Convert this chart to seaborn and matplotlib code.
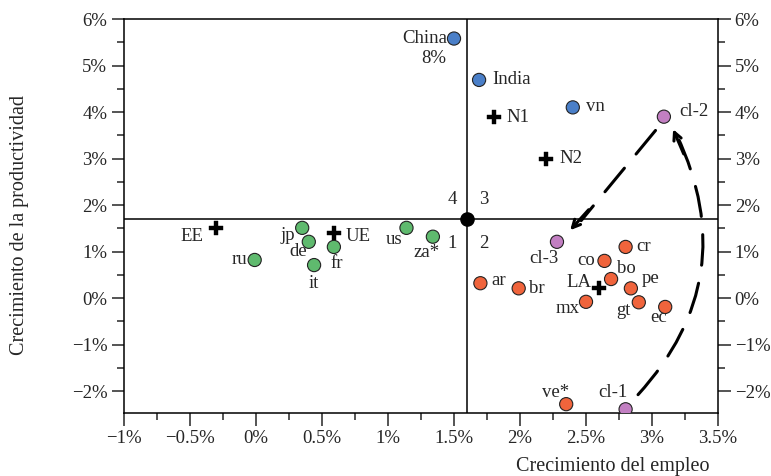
import matplotlib
matplotlib.use("Agg")
import matplotlib.pyplot as plt
from matplotlib.patches import FancyArrowPatch
from matplotlib.ticker import FuncFormatter, MultipleLocator
import pandas as pd
import seaborn as sns

# --- données (en %) ---
names = ["China", "India", "vn",
         "jp", "de", "fr", "it", "ru", "us", "za*",
         "ar", "br", "mx", "co", "cr", "bo", "pe", "gt", "ec", "ve*",
         "cl-1", "cl-2", "cl-3"]
empleo = [1.50, 1.69, 2.40,
          0.35, 0.40, 0.59, 0.44, -0.01, 1.14, 1.34,
          1.70, 1.99, 2.50, 2.64, 2.80, 2.69, 2.84, 2.90, 3.10, 2.35,
          2.80, 3.09, 2.28]
productividad = [5.58, 4.69, 4.10,
                 1.51, 1.21, 1.10, 0.71, 0.82, 1.51, 1.32,
                 0.32, 0.21, -0.08, 0.80, 1.10, 0.41, 0.21, -0.09, -0.19, -2.28,
                 -2.39, 3.90, 1.21]
grupo = ["asia"] * 3 + ["desarrollados"] * 7 + ["latam"] * 10 + ["chile"] * 3

agg_names = ["N1", "N2", "EE", "UE", "LA"]
agg_empleo = [1.80, 2.20, -0.30, 0.59, 2.60]
agg_prod = [3.89, 3.00, 1.50, 1.40, 0.21]

media_empleo = 1.6
media_prod = 1.7

PALETTE = {"asia": "#4a7fc8", "desarrollados": "#5fba6e",
           "latam": "#f0643c", "chile": "#c27fc2"}

# placement des étiquettes : (dx, dy) en pixels, alignement horizontal
LABEL_POS = {
    "China": (-7, 0, "right"), "India": (13, 0, "left"), "vn": (13, 1, "left"),
    "jp": (-14, -8, "center"), "de": (-11, -10, "center"), "fr": (3, -17, "center"),
    "it": (0, -18, "center"), "ru": (-7, 0, "right"), "us": (-12, -12, "center"),
    "za*": (-6, -16, "center"),
    "ar": (11, 3, "left"), "br": (10, 0, "left"), "mx": (-6, -7, "right"),
    "co": (-9, 0, "right"), "cr": (11, 0, "left"), "bo": (6, 11, "left"),
    "pe": (11, 10, "left"), "gt": (-15, -8, "center"), "ec": (-7, -11, "center"),
    "ve*": (-11, 12, "center"),
    "cl-1": (-13, 17, "center"), "cl-2": (15, 5, "left"), "cl-3": (-13, -17, "center"),
    "N1": (13, 0, "left"), "N2": (13, 0, "left"), "EE": (-24, -8, "center"),
    "UE": (12, -4, "left"), "LA": (-8, 6, "right"),
}
FS = 13.5

sns.set_style("white")
plt.rcParams["font.family"] = ["Liberation Serif", "DejaVu Serif"]

df = pd.DataFrame({"pais": names, "empleo": empleo,
                   "productividad": productividad, "grupo": grupo})
agg = pd.DataFrame({"pais": agg_names, "empleo": agg_empleo, "productividad": agg_prod})

fig = plt.figure(figsize=(7.71, 4.76), dpi=100)
ax = fig.add_axes([124 / 771, 1 - 413 / 476, (718 - 124) / 771, (413 - 19) / 476])

# lignes des moyennes
ax.axvline(media_empleo, color="black", lw=1.1, zorder=1)
ax.axhline(media_prod, color="black", lw=1.1, zorder=1)

sns.scatterplot(data=df, x="empleo", y="productividad", hue="grupo", palette=PALETTE,
                s=90, edgecolor="#222222", linewidth=0.8, legend=False, ax=ax, zorder=3)
sns.scatterplot(data=agg, x="empleo", y="productividad", marker="P", color="black",
                s=90, edgecolor="black", linewidth=0.3, legend=False, ax=ax, zorder=3)
ax.scatter([media_empleo], [media_prod], s=90, color="black", zorder=4)

# étiquettes
for data in (df, agg):
    for _, r in data.iterrows():
        dx, dy, ha = LABEL_POS[r["pais"]]
        ax.annotate(r["pais"], (r["empleo"], r["productividad"]), xytext=(dx, dy),
                    textcoords="offset pixels", ha=ha, va="center", fontsize=FS)
ax.annotate("8%", (1.50, 5.58), xytext=(-20, -20), textcoords="offset pixels",
            ha="center", va="center", fontsize=FS)

# numéros des quadrants
for txt, dx, dy in [("4", -15, 20), ("3", 17, 20), ("1", -15, -24), ("2", 17, -24)]:
    ax.annotate(txt, (media_empleo, media_prod), xytext=(dx, dy),
                textcoords="offset pixels", ha="center", va="center", fontsize=FS)

# trajectoire du Chili : cl-1 -> cl-2 -> cl-3
dash = (0, (10, 6))
ax.add_patch(FancyArrowPatch((2.88, -2.12), (3.18, 3.55), arrowstyle="-",
                             connectionstyle="arc3,rad=0.34", lw=2.2,
                             linestyle=dash, color="black", zorder=2))
ax.annotate("", xy=(3.16, 3.63), xytext=(3.24, 3.10),
            arrowprops=dict(arrowstyle="->", lw=2.2, color="black",
                            mutation_scale=14, shrinkA=0, shrinkB=0))
ax.add_patch(FancyArrowPatch((3.04, 3.65), (2.45, 1.62), arrowstyle="-", lw=2.2,
                             linestyle=dash, color="black", zorder=2))
ax.annotate("", xy=(2.38, 1.46), xytext=(2.52, 1.90),
            arrowprops=dict(arrowstyle="->", lw=2.2, color="black",
                            mutation_scale=14, shrinkA=0, shrinkB=0))

# axes
ax.set_xlim(-1, 3.5)
ax.set_ylim(-2.47, 6)
pct = FuncFormatter(lambda v, _: f"{v:g}%".replace("-", "\u2212"))
ax.xaxis.set_major_locator(MultipleLocator(0.5))
ax.xaxis.set_minor_locator(MultipleLocator(0.25))
ax.yaxis.set_major_locator(MultipleLocator(1))
ax.yaxis.set_minor_locator(MultipleLocator(0.5))
ax.xaxis.set_major_formatter(pct)
ax.yaxis.set_major_formatter(pct)
ax.tick_params(which="both", direction="out", width=1.1, labelsize=FS,
               left=True, right=True, bottom=True, top=False, labelright=True)
ax.tick_params(which="major", length=9, pad=3)
ax.tick_params(which="minor", length=5)
for sp in ax.spines.values():
    sp.set_linewidth(1.1)
    sp.set_color("black")

ax.set_xlabel("")
ax.set_ylabel("")
fig.text(709 / 771, 1 - 466 / 476, "Crecimiento del empleo", ha="right",
         va="center", fontsize=14.5)
fig.text(20 / 771, 1 - 225 / 476, "Crecimiento de la productividad", rotation=90,
         ha="center", va="center", fontsize=14.5)

fig.savefig("out.png", dpi=100)
